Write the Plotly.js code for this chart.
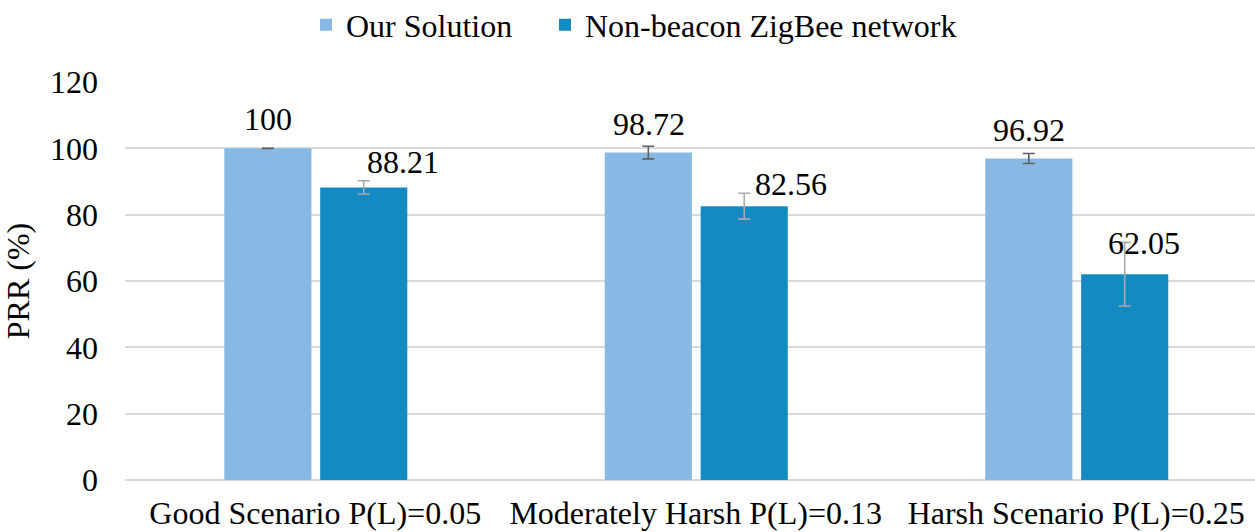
<!DOCTYPE html>
<html>
<head>
<meta charset="utf-8">
<script src="https://cdn.plot.ly/plotly-3.0.1.min.js"></script>
<style>
html,body{margin:0;padding:0;background:#fff;overflow:hidden;}
#chart{width:1255px;height:532px;}
</style>
</head>
<body>
<div id="chart"></div>
<script>
// ---- data ----
const categories = ["Good Scenario P(L)=0.05", "Moderately Harsh P(L)=0.13", "Harsh Scenario P(L)=0.25"];
const seriesNames = ["Our Solution", "Non-beacon ZigBee network"];
const ourSolution = [100, 98.72, 96.92];
const ourSolutionErr = [0, 1.9, 1.5];
const nonBeacon = [88.21, 82.56, 62.05];
const nonBeaconErr = [2.0, 3.9, 9.6];
const yTicks = [0, 20, 40, 60, 80, 100, 120];

// ---- styles ----
const FONT = '"Liberation Serif", "Times New Roman", serif';
const FS = 32;
const colors = ["#86B9E3", "#138BC2"];
const errColors = ["#5f5f5f", "#a9a9a9"];
const barWidth = 0.229;
const barOffsets = [-0.239, 0.013];
// label placement (category-unit x offsets, px y shifts)
const labelDx = [[-0.124, -0.124, -0.124], [0.231, 0.25, 0.179]];
const labelDy = [[29, 29, 29], [25, 22, 31]];
const legendX = [306 / 1255, 545 / 1255];

const xIdx = categories.map((c, i) => i);

const traces = [
  {
    type: 'bar', name: seriesNames[0], x: xIdx, y: ourSolution,
    width: barWidth, offset: barOffsets[0], legend: 'legend',
    marker: {color: colors[0]},
    error_y: {type: 'data', array: ourSolutionErr, visible: true, color: errColors[0], thickness: 1.6, width: 6}
  },
  {
    type: 'bar', name: seriesNames[1], x: xIdx, y: nonBeacon,
    width: barWidth, offset: barOffsets[1], legend: 'legend2',
    marker: {color: colors[1]},
    error_y: {type: 'data', array: nonBeaconErr, visible: true, color: errColors[1], thickness: 1.6, width: 6}
  }
];

const annotations = [];
[ourSolution, nonBeacon].forEach((vals, s) => {
  vals.forEach((v, i) => {
    annotations.push({
      x: i + labelDx[s][i], y: v, xref: 'x', yref: 'y',
      text: String(v), showarrow: false,
      xanchor: 'center', yanchor: 'middle', yshift: labelDy[s][i],
      font: {family: FONT, size: FS, color: '#000'}
    });
  });
});

function legendCfg(x) {
  return {
    orientation: 'h', xref: 'container', x: x, xanchor: 'left',
    yref: 'container', y: 1 - 25 / 532, yanchor: 'middle',
    font: {family: FONT, size: FS, color: '#000'},
    itemwidth: 30, bgcolor: 'rgba(0,0,0,0)'
  };
}

const layout = {
  width: 1255, height: 532,
  margin: {l: 125, r: 0, t: 82, b: 52},
  paper_bgcolor: '#fff', plot_bgcolor: '#fff',
  font: {family: FONT, size: FS, color: '#000'},
  showlegend: true,
  legend: legendCfg(legendX[0]),
  legend2: legendCfg(legendX[1]),
  xaxis: {
    range: [-0.5, 2.47], tickmode: 'array', tickvals: xIdx, ticktext: categories,
    showgrid: false, zeroline: false, showline: false, ticks: '',
    ticklabelstandoff: 11,
    tickfont: {family: FONT, size: FS, color: '#000'}
  },
  yaxis: {
    range: [0, 120], tickmode: 'array', tickvals: yTicks,
    showgrid: true, gridcolor: '#D9D9D9', gridwidth: 2,
    zeroline: true, zerolinecolor: '#D9D9D9', zerolinewidth: 2,
    showline: false, ticks: '', ticklabelstandoff: 26,
    tickfont: {family: FONT, size: FS, color: '#000'},
    title: {text: 'PRR (%)', font: {family: FONT, size: FS, color: '#000'}, standoff: 18}
  },
  annotations: annotations,
  bargap: 0.5
};

Plotly.newPlot('chart', traces, layout, {displayModeBar: false, staticPlot: true});
</script>
</body>
</html>
